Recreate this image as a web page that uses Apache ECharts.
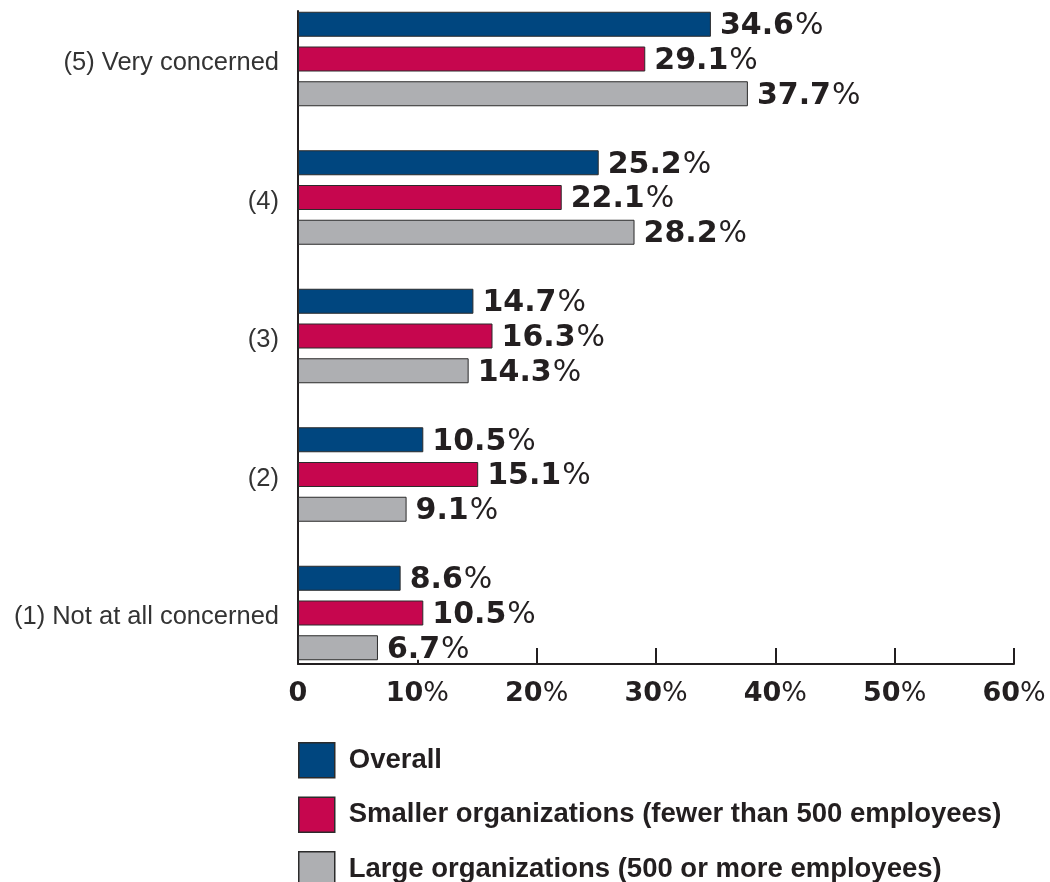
<!DOCTYPE html>
<html>
<head>
<meta charset="utf-8">
<script src="https://cdn.jsdelivr.net/npm/echarts@6/dist/echarts.min.js"></script>
<style>
html,body{margin:0;padding:0;background:#fff;}
#chart{width:1050px;height:882px;}
</style>
</head>
<body>
<div id="chart"></div>
<script>
const categories = ["(5) Very concerned", "(4)", "(3)", "(2)", "(1) Not at all concerned"];
const seriesNames = ["Overall", "Smaller organizations (fewer than 500 employees)", "Large organizations (500 or more employees)"];
const overall = [34.6, 25.2, 14.7, 10.5, 8.6];
const smaller = [29.1, 22.1, 16.3, 15.1, 10.5];
const large = [37.7, 28.2, 14.3, 9.1, 6.7];
const xTicks = [0, 10, 20, 30, 40, 50, 60];

const colors = ["#00467F", "#C6064E", "#AEAFB2"];
const FONT = "Liberation Sans";
const NUMFONT = "DejaVu Sans";

const labelCfg = {
  show: true,
  position: "right",
  distance: 9,
  backgroundColor: "#fff",
  formatter: p => "{n|" + p.value.toFixed(1) + "}{p|%}",
  rich: {
    n: {fontFamily: NUMFONT, fontWeight: "bold", fontSize: 30, lineHeight: 24, color: "#231f20", padding: [4, 0, 0, 0]},
    p: {fontFamily: NUMFONT, fontWeight: "normal", fontSize: 30, lineHeight: 24, color: "#231f20", padding: [4, 0, 0, 1]}
  }
};

function mkSeries(name, data, color) {
  return {
    name: name,
    type: "bar",
    xAxisIndex: 0,
    yAxisIndex: 0,
    data: data,
    barWidth: 25,
    barGap: "39%",
    itemStyle: {color: color, borderColor: "#2b2b2b", borderWidth: 1},
    label: labelCfg,
    animation: false
  };
}

const chart = echarts.init(document.getElementById("chart"), null, {renderer: "canvas"});
chart.setOption({
  animation: false,
  grid: [
    {left: 298, right: 36, top: -10.25, height: 692.5, containLabel: false, outerBoundsMode: "none"},
    {left: 298, right: 36, top: 11, bottom: 218, containLabel: false, outerBoundsMode: "none"}
  ],
  legend: {
    orient: "vertical",
    left: 298,
    top: 742,
    height: 200,
    padding: 0,
    itemWidth: 36,
    itemHeight: 35,
    itemGap: 18,
    icon: "rect",
    data: seriesNames,
    itemStyle: {borderColor: "#2b2b2b", borderWidth: 1.5},
    textStyle: {fontFamily: FONT, fontWeight: "bold", fontSize: 27.5, color: "#231f20", padding: [0, 0, 0, 9]}
  },
  xAxis: [
    {gridIndex: 0, type: "value", min: 0, max: 60, interval: 10, show: false},
    {
      gridIndex: 1, type: "value", min: 0, max: 60, interval: 10,
      axisLine: {show: true, lineStyle: {color: "#231f20", width: 2}},
      axisTick: {show: true, inside: true, length: 16, lineStyle: {color: "#231f20", width: 2}},
      splitLine: {show: false},
      axisLabel: {
        margin: 16,
        formatter: v => v === 0 ? "{n|0}" : "{n|" + v + "}{p|%}",
        rich: {
          n: {fontFamily: NUMFONT, fontWeight: "bold", fontSize: 27, color: "#231f20"},
          p: {fontFamily: NUMFONT, fontWeight: "normal", fontSize: 27, color: "#231f20"}
        }
      }
    }
  ],
  yAxis: [
    {
      gridIndex: 0, type: "category", data: categories, inverse: true,
      axisLine: {show: false}, axisTick: {show: false},
      axisLabel: {
        margin: 19,
        formatter: v => "{c|" + v + "}",
        rich: {c: {fontFamily: FONT, fontSize: 25.5, color: "#333", padding: [8, 0, 0, 0]}}
      }
    },
    {
      gridIndex: 1, type: "value", min: 0, max: 1,
      axisLine: {show: true, lineStyle: {color: "#231f20", width: 2}},
      axisTick: {show: false}, axisLabel: {show: false}, splitLine: {show: false}
    }
  ],
  series: [
    mkSeries(seriesNames[0], overall, colors[0]),
    mkSeries(seriesNames[1], smaller, colors[1]),
    mkSeries(seriesNames[2], large, colors[2])
  ]
});
</script>
</body>
</html>
